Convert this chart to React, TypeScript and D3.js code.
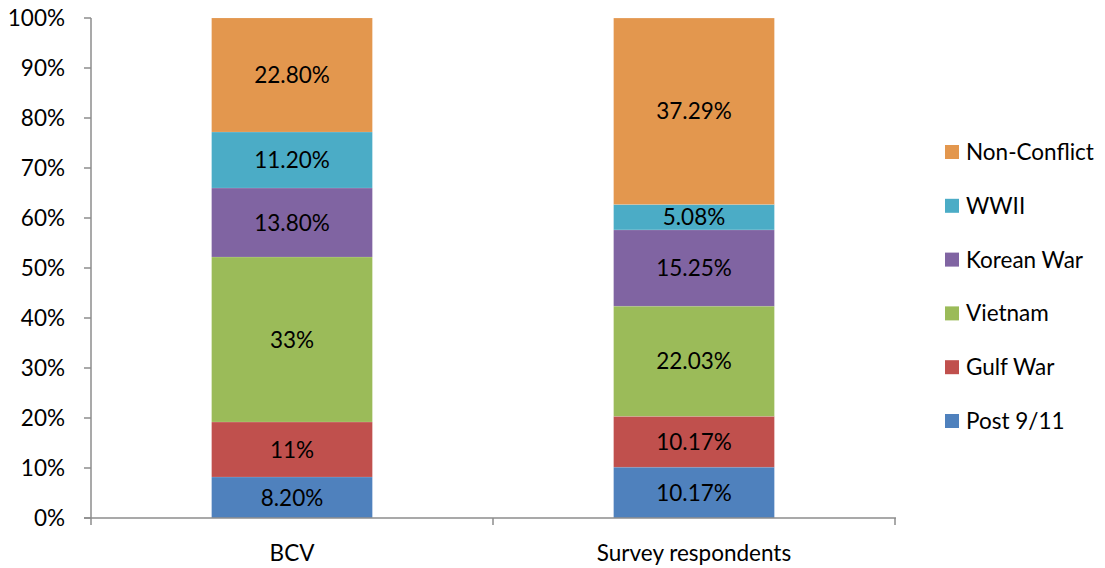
import React from "react";
import * as d3 from "d3";

const categories = ["BCV", "Survey respondents"];
const seriesNames = ["Post 9/11", "Gulf War", "Vietnam", "Korean War", "WWII", "Non-Conflict"];
const seriesColors = ["#4F81BD", "#C0504D", "#9BBB59", "#8064A2", "#4BACC6", "#E3974E"];
const bcvValues = [8.2, 11, 33, 13.8, 11.2, 22.8];
const surveyValues = [10.17, 10.17, 22.03, 15.25, 5.08, 37.29];
const bcvLabels = ["8.20%", "11%", "33%", "13.80%", "11.20%", "22.80%"];
const surveyLabels = ["10.17%", "10.17%", "22.03%", "15.25%", "5.08%", "37.29%"];
const yTicks = [0, 10, 20, 30, 40, 50, 60, 70, 80, 90, 100];

const W = 1105;
const H = 568;
const FONT = "Lato, 'Open Sans', sans-serif";
const FS = 22.5;

export default function App() {
  const left = 91;
  const right = 895;
  const top = 18;
  const bottom = 518;
  const x = d3.scaleBand<string>().domain(categories).range([left, right]).paddingInner(0.6).paddingOuter(0.3);
  const xOuter = d3.scaleBand<string>().domain(categories).range([left, right]);
  const y = d3.scaleLinear().domain([0, 100]).range([bottom, top]);

  const values = [bcvValues, surveyValues];
  const labels = [bcvLabels, surveyLabels];

  const bars: React.ReactNode[] = [];
  categories.forEach((c, ci) => {
    const stack = d3.cumsum(values[ci]);
    values[ci].forEach((v, si) => {
      const y1 = y(stack[si]);
      const y0 = y(stack[si] - v);
      const bx = x(c)!;
      const bw = x.bandwidth();
      bars.push(
        <g key={`${ci}-${si}`}>
          <rect x={bx} y={y1} width={bw} height={y0 - y1} fill={seriesColors[si]} stroke="#ffffff" strokeOpacity={0.25} strokeWidth={0.5} />
          <text x={bx + bw / 2} y={(y0 + y1) / 2 + 8} textAnchor="middle" fontSize={FS} fill="#000">
            {labels[ci][si]}
          </text>
        </g>
      );
    });
  });

  const legendOrder = [5, 4, 3, 2, 1, 0];
  const legendY = d3.scalePoint<number>().domain(legendOrder).range([152, 421]);

  return (
    <svg width={W} height={H} style={{ position: "absolute", left: 0, top: 0, fontFamily: FONT }}>
      <rect width={W} height={H} fill="#fff" />
      {bars}
      {/* y axis */}
      <line x1={left} x2={left} y1={top} y2={bottom} stroke="#8c8c8c" strokeWidth={1.5} />
      {yTicks.map((t) => (
        <g key={t}>
          <line x1={left - 7} x2={left} y1={y(t)} y2={y(t)} stroke="#8c8c8c" strokeWidth={1.5} />
          <text x={65} y={y(t) + 8} textAnchor="end" fontSize={FS} fill="#000">
            {t}%
          </text>
        </g>
      ))}
      {/* x axis */}
      <line x1={left - 7} x2={right + 1} y1={bottom} y2={bottom} stroke="#8c8c8c" strokeWidth={1.5} />
      {[...categories.map((c) => xOuter(c)!), right].map((px, i) => (
        <line key={i} x1={px} x2={px} y1={bottom} y2={bottom + 7} stroke="#8c8c8c" strokeWidth={1.5} />
      ))}
      {categories.map((c) => (
        <text key={c} x={x(c)! + x.bandwidth() / 2} y={561} textAnchor="middle" fontSize={FS} fill="#000">
          {c}
        </text>
      ))}
      {/* legend */}
      {legendOrder.map((si) => (
        <g key={si}>
          <rect x={945} y={legendY(si)! - 7} width={14} height={14} fill={seriesColors[si]} />
          <text x={966} y={legendY(si)! + 8} fontSize={FS} fill="#000">
            {seriesNames[si]}
          </text>
        </g>
      ))}
    </svg>
  );
}
